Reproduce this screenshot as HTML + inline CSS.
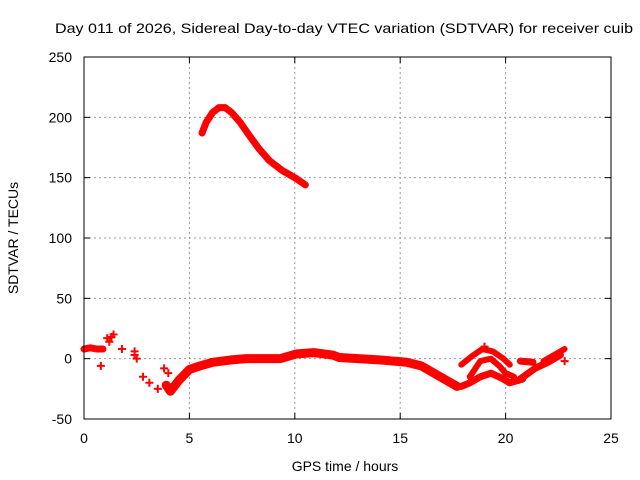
<!DOCTYPE html>
<html><head><meta charset="utf-8"><style>
body{margin:0;background:#fff}
svg{display:block;font-family:"Liberation Sans",sans-serif}
</style></head><body>
<svg id="c" width="640" height="480" viewBox="0 0 640 480">
<text x="55" y="33" font-size="14" textLength="578" lengthAdjust="spacingAndGlyphs">Day 011 of 2026, Sidereal Day-to-day VTEC variation (SDTVAR) for receiver cuib</text>
<text x="345" y="471" font-size="14" text-anchor="middle">GPS time / hours</text>
<text transform="translate(18,238) rotate(-90)" font-size="14" text-anchor="middle">SDTVAR / TECUs</text>
<g id="grid"></g><g id="marks"></g>
<rect x="84" y="57" width="527" height="362" fill="none" stroke="#000" stroke-width="1"/>
</svg>
<script>
const xTicks=[0,5,10,15,20,25];
const yTicks=[-50,0,50,100,150,200,250];
const arcHours=[5.6,5.8,6.1,6.4,6.7,7.0,7.4,7.8,8.3,8.8,9.4,10.0,10.5];
const arcVals=[187,196,204,208,208,204,196,186,174,164,156,150,144];
const mainHours=[3.9,4.1,4.5,5.0,5.5,6.1,7.0,7.7,8.5,9.3,10.1,10.9,11.8,12.1,13.0,14.0,15.3,16.0,16.6,17.2,17.7];
const mainVals=[-22,-27,-18,-9,-6,-3,-1,0,0,0,4,5,3,1,0,-1,-3,-6,-12,-18,-23];
const earlyHours=[0.0,0.3,0.6,0.9];
const earlyVals=[8,9,8,8];
const tangle1Hours=[17.9,18.4,18.9,19.4,19.9,20.2];
const tangle1Vals=[-5,2,8,6,0,-5];
const tangle2Hours=[18.3,18.8,19.3,19.7,20.0,20.4];
const tangle2Vals=[-15,-2,0,-6,-12,-15];
const tangle3Hours=[17.9,18.3,18.8,19.3,19.8,20.2,20.8];
const tangle3Vals=[-23,-20,-15,-12,-16,-20,-17];
const tangle4Hours=[20.6,21.0,21.4,22.0,22.6];
const tangle4Vals=[-18,-13,-8,-3,3];
const tangle5Hours=[21.8,22.2,22.5,22.8];
const tangle5Vals=[-2,2,5,8];
const tangle6Hours=[20.7,21.3];
const tangle6Vals=[-2,-3];
const sparseHours=[0.8,1.1,1.2,1.3,1.4,1.8,2.4,2.5,2.4,2.8,3.1,3.5,3.8,4.0,19.0,22.8];
const sparseVals=[-6,17,14,18,20,8,3,0,6,-15,-20,-25,-8,-12,10,-2];
const X=h=>84+h*527/25, Y=v=>419-(v+50)*362/300;
const NS="http://www.w3.org/2000/svg";
const grid=document.getElementById('grid'),marks=document.getElementById('marks');
function mk(t,a,p){const e=document.createElementNS(NS,t);for(const k in a)e.setAttribute(k,a[k]);p.appendChild(e);return e;}
xTicks.forEach(t=>{const x=X(t);
 if(t>0&&t<25){const g=mk('line',{x1:x,x2:x,y1:57,y2:419,stroke:'#999','stroke-dasharray':'2,3'},grid);
 
 }
 mk('line',{x1:x,x2:x,y1:419,y2:413,stroke:'#000'},grid);mk('line',{x1:x,x2:x,y1:57,y2:63,stroke:'#000'},grid);
 const l=mk('text',{x:x,y:443,'font-size':14,'text-anchor':'middle'},grid);l.textContent=t;
 
 });
yTicks.forEach(t=>{const y=Y(t);
 if(t>-50&&t<250){const g=mk('line',{x1:84,x2:611,y1:y,y2:y,stroke:'#999','stroke-dasharray':'2,3'},grid);
 
 }
 mk('line',{x1:84,x2:90,y1:y,y2:y,stroke:'#000'},grid);mk('line',{x1:611,x2:605,y1:y,y2:y,stroke:'#000'},grid);
 const l=mk('text',{x:72,y:y+5,'font-size':14,'text-anchor':'end'},grid);l.textContent=t;
 
 });
function line(hs,vs,w,name){const p=mk('polyline',{points:hs.map((h,i)=>X(h)+','+Y(vs[i])).join(' '),fill:'none',stroke:'#f00','stroke-width':w,'stroke-linejoin':'round','stroke-linecap':'round'},marks);
 
 }
line(arcHours,arcVals,7,'series-arc');
line(mainHours,mainVals,9,'series-main');
line(earlyHours,earlyVals,7,'series-early');
line(tangle1Hours,tangle1Vals,6,'series-tangle-1');
line(tangle2Hours,tangle2Vals,6,'series-tangle-2');
line(tangle3Hours,tangle3Vals,7,'series-tangle-3');
line(tangle4Hours,tangle4Vals,7,'series-tangle-4');
line(tangle5Hours,tangle5Vals,6,'series-tangle-5');
line(tangle6Hours,tangle6Vals,7,'series-tangle-6');
sparseHours.forEach((h,i)=>{const x=X(h),y=Y(sparseVals[i]);
 const p=mk('path',{d:`M${x-4},${y}H${x+4}M${x},${y-4}V${y+4}`,stroke:'#f00','stroke-width':2},marks);
 
 });
</script>
</body></html>
